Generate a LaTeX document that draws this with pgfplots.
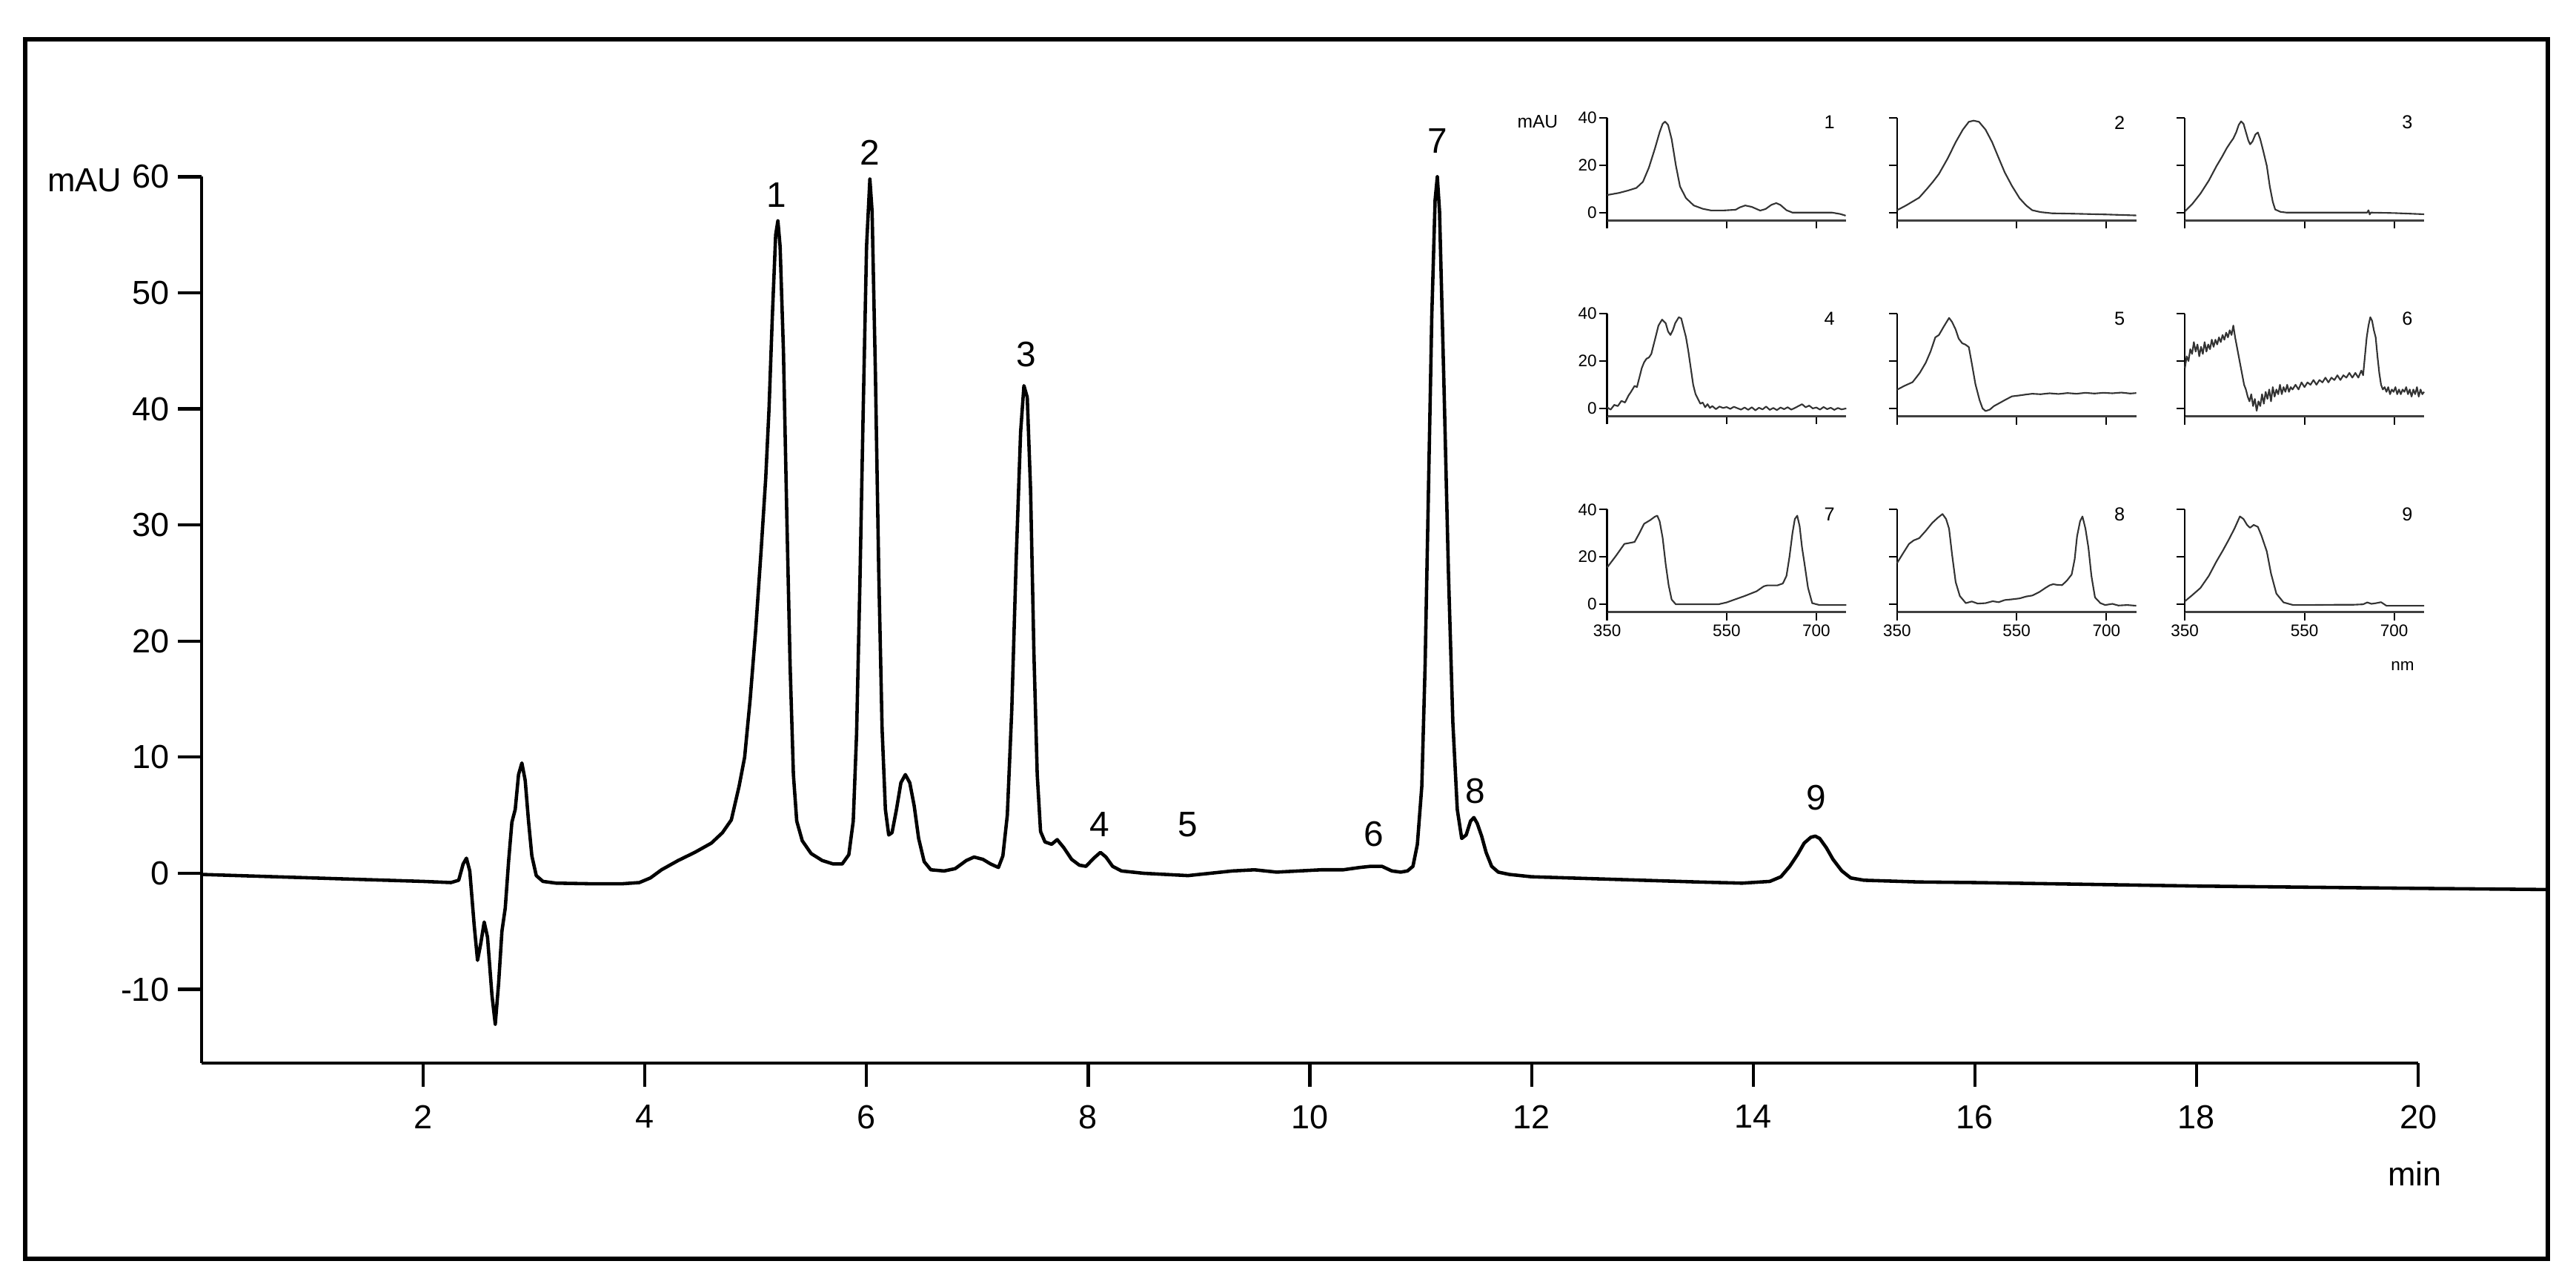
\documentclass[border=0pt]{standalone}
\usepackage{pgfplots}
\pgfplotsset{compat=1.18}
\usepackage{fontspec}
\setmainfont{Liberation Sans}

% small spectrum panels
\pgfplotsset{
  spec/.style={
    scale only axis, width=1.614cm, height=0.692cm,
    xmin=350, xmax=750, ymin=-3.3, ymax=40,
    axis x line=bottom, axis y line=left,
    x axis line style={-, line width=0.5pt, black!75},
    y axis line style={-, line width=0.3pt},
    xtick={350,550,700}, ytick={0,20,40},
    tick align=outside, major tick length=0.055cm,
    tick style={line width=0.3pt, black},
    xticklabels={}, yticklabels={},
    tick label style={font=\fontsize{3.2}{3.5}\selectfont},
    yticklabel style={inner xsep=0.2pt},
    xticklabel style={inner ysep=0.6pt},
    clip=false,
  },
  spec ylab/.style={yticklabels={0,20,40}},
  spec xlab/.style={xticklabels={350,550,700}},
  spline/.style={line width=0.3pt, black!80, line join=round},
}
\newcommand{\specnum}[1]{\node[font=\fontsize{3.6}{4}\selectfont] at (axis cs:722,38) {#1};}

\begin{document}
\begin{tikzpicture}
\path (0,0) rectangle (17.38,8.655);
\draw[line width=0.8pt] (0.17,0.165) rectangle (17.19,8.39);

\begin{axis}[
  at={(1.36cm,1.485cm)}, anchor=south west,
  scale only axis, width=14.955cm, height=5.978cm,
  xmin=0, xmax=20, ymin=-16.35, ymax=60,
  axis x line=bottom, axis y line=left,
  axis line style={-, line width=0.6pt},
  xtick={2,4,...,20}, ytick={-10,0,...,60},
  tick align=outside, major tick length=0.16cm,
  tick style={line width=0.6pt, black},
  tick label style={font=\fontsize{6.4}{7.5}\selectfont},
  yticklabel style={inner xsep=1.5pt},
  /pgf/number format/assume math mode=true,
  clip=false,
]
\addplot[line width=0.65pt, black, line join=round] coordinates {
(0,-0.1) (0.5,-0.25) (1.0,-0.4) (1.5,-0.55) (2.0,-0.7) (2.25,-0.8)
(2.32,-0.6) (2.36,0.8) (2.39,1.3) (2.42,0.2) (2.46,-4.5) (2.49,-7.5)
(2.52,-6.0) (2.55,-4.2) (2.58,-5.5) (2.62,-10.5) (2.65,-13.0) (2.68,-9.5)
(2.71,-5.0) (2.74,-3.0) (2.77,1.0) (2.8,4.4) (2.83,5.5) (2.86,8.5)
(2.89,9.5) (2.92,8.0) (2.95,4.5) (2.98,1.5) (3.02,-0.2) (3.08,-0.7)
(3.2,-0.85) (3.5,-0.9) (3.8,-0.9) (3.95,-0.8) (4.05,-0.4) (4.15,0.3)
(4.3,1.1) (4.45,1.8) (4.6,2.6) (4.7,3.5) (4.78,4.6) (4.85,7.5)
(4.9,10) (4.95,15) (5.0,21) (5.05,28) (5.09,34) (5.12,40) (5.15,48)
(5.18,55) (5.2,56.2) (5.22,54) (5.25,45) (5.28,31) (5.31,18) (5.34,8.5)
(5.37,4.5) (5.42,2.8) (5.5,1.7) (5.6,1.1) (5.7,0.8) (5.78,0.8)
(5.84,1.6) (5.88,4.5) (5.91,12) (5.94,25) (5.97,40) (6.0,54) (6.03,59.8)
(6.05,57) (6.08,43) (6.11,26) (6.14,12.5) (6.17,5.5) (6.2,3.3)
(6.23,3.5) (6.27,5.5) (6.31,7.8) (6.35,8.5) (6.39,7.8) (6.43,5.8)
(6.47,3.0) (6.52,1.0) (6.58,0.3) (6.7,0.2) (6.8,0.4) (6.9,1.1)
(6.97,1.4) (7.05,1.2) (7.12,0.8) (7.19,0.5) (7.23,1.5) (7.27,5)
(7.31,14) (7.35,27) (7.39,38) (7.42,42) (7.45,41) (7.48,33) (7.51,19)
(7.54,8.5) (7.57,3.6) (7.61,2.7) (7.67,2.5) (7.72,2.9) (7.78,2.2)
(7.85,1.2) (7.92,0.7) (7.98,0.6) (8.05,1.3) (8.11,1.8) (8.16,1.4)
(8.22,0.6) (8.3,0.2) (8.5,0.0) (8.7,-0.1) (8.9,-0.2) (9.1,0.0)
(9.3,0.2) (9.5,0.3) (9.7,0.1) (9.9,0.2) (10.1,0.3) (10.3,0.3)
(10.45,0.5) (10.55,0.6) (10.65,0.6) (10.74,0.2) (10.82,0.1) (10.88,0.2)
(10.93,0.6) (10.97,2.5) (11.01,7.5) (11.04,18) (11.07,33) (11.1,48)
(11.13,58) (11.15,60) (11.17,57) (11.21,42) (11.25,26) (11.29,13)
(11.33,5.5) (11.37,3.0) (11.41,3.3) (11.45,4.5) (11.48,4.8) (11.51,4.3)
(11.55,3.2) (11.59,1.8) (11.64,0.6) (11.7,0.1) (11.8,-0.1) (12.0,-0.3)
(12.5,-0.45) (13.0,-0.6) (13.5,-0.75) (13.9,-0.85) (14.15,-0.7)
(14.25,-0.3) (14.33,0.6) (14.4,1.6) (14.46,2.6) (14.52,3.1) (14.56,3.2)
(14.6,3.0) (14.66,2.2) (14.72,1.2) (14.8,0.2) (14.88,-0.4) (15.0,-0.6)
(15.5,-0.75) (16.0,-0.8) (17.0,-0.95) (18.0,-1.1) (19.0,-1.2)
(20.0,-1.3) (21.15,-1.4)
};
\begin{scope}[font=\fontsize{6.8}{8}\selectfont]
\node at (axis cs:5.19,58.4) {1};
\node at (axis cs:6.03,62.1) {2};
\node at (axis cs:7.44,44.7) {3};
\node at (axis cs:8.10,4.2) {4};
\node at (axis cs:8.90,4.2) {5};
\node at (axis cs:10.58,3.4) {6};
\node at (axis cs:11.15,63.1) {7};
\node at (axis cs:11.49,7.1) {8};
\node at (axis cs:14.57,6.5) {9};
\end{scope}
\begin{scope}[font=\fontsize{6.4}{7.5}\selectfont]
\node[anchor=east, inner sep=0pt] at (axis cs:-0.71,59.7) {mAU};
\node at (axis cs:19.97,-25.9) {min};
\end{scope}
\end{axis}

% row 1
\begin{axis}[spec, spec ylab, at={(10.8425cm,7.1685cm)}, anchor=south west]
\addplot[spline] coordinates {
(350,7.4) (370,8.3) (385,9.3) (399,10.4) (410,13) (420,19) (430,27)
(438,34) (443,37.5) (447,38.4) (452,37) (458,31) (465,20) (472,11)
(482,6.1) (495,3) (510,1.6) (524,0.9) (545,0.9) (565,1.2) (572,2.2)
(581,3.0) (592,2.4) (606,0.85) (615,1.5) (625,3.3) (633,4.0) (640,3.2)
(650,1.0) (660,0) (700,0) (726,0) (740,-0.6) (749,-1.3)
};
\specnum{1}
\node[font=\fontsize{3.5}{4}\selectfont] at (axis cs:234,38.4) {mAU};
\end{axis}
\begin{axis}[spec, at={(12.799cm,7.1685cm)}, anchor=south west]
\addplot[spline] coordinates {
(350,1.0) (365,3) (387,6.3) (400,10) (410,13) (420,16.3) (435,23)
(448,29.7) (460,35) (470,38.3) (478,38.8) (487,38.3) (498,35) (509,29.7)
(520,23) (530,17) (542,11.3) (555,6) (566,3) (576,1.0) (590,0.2)
(609,-0.3) (650,-0.5) (700,-0.8) (750,-1.2)
};
\specnum{2}
\end{axis}
\begin{axis}[spec, at={(14.741cm,7.1685cm)}, anchor=south west]
\addplot[spline] coordinates {
(350,0.5) (362,3.5) (376,8) (390,13.5) (403,19.7) (412,23.5) (420,27.2)
(426,29.5) (431,31.3) (436,34) (440,37) (444,38.5) (448,37.5) (452,34)
(456,30.5) (459,28.8) (463,30) (468,33) (472,33.8) (476,31) (481,26)
(487,19.7) (492,11) (497,4.5) (501,1.3) (510,0.3) (520,0) (600,0)
(655,0) (657,1.0) (659,-0.8) (661,0) (700,-0.2) (750,-0.7)
};
\specnum{3}
\end{axis}

% row 2
\begin{axis}[spec, spec ylab, at={(10.8425cm,5.8475cm)}, anchor=south west]
\addplot[spline] coordinates {
(350,0.5) (356,-0.5) (362,1.5) (368,1.0) (374,3.2) (380,2.5) (386,5.5)
(390,7) (396,9.5) (400,9) (404,13) (408,17) (412,19.5) (416,21) (420,21.5)
(424,23) (428,27) (432,31) (436,35) (442,37.5) (448,36) (452,32.5)
(456,31) (460,33) (464,36) (470,38.5) (474,38) (478,34) (482,30) (486,24)
(490,17) (494,10) (498,6) (502,4) (506,2) (510,2.5) (514,0.5) (518,1.8)
(522,0.2) (526,1) (532,-0.3) (538,0.8) (544,0.2) (550,0.6) (556,-0.2)
(562,0.7) (568,0.1) (574,-0.5) (580,0.4) (586,-0.6) (592,0.5) (598,-0.8)
(604,0.3) (610,-0.4) (616,0.8) (622,-0.6) (628,0.2) (634,-0.7) (640,0.4)
(646,-0.3) (652,0.5) (658,-0.5) (664,0.2) (670,1.0) (676,1.8) (682,0.5)
(688,1.2) (694,0) (700,0.4) (706,-0.5) (712,0.6) (718,-0.3) (724,0.3)
(730,-0.6) (736,0.2) (742,-0.4) (750,0)
};
\specnum{4}
\end{axis}
\begin{axis}[spec, at={(12.799cm,5.8475cm)}, anchor=south west]
\addplot[spline] coordinates {
(350,7.9) (362,9.5) (376,11.1) (388,15) (398,19.3) (406,24) (414,30)
(420,31) (428,34.5) (437,38.2) (442,36.5) (448,33.3) (453,29.5) (459,27.5)
(464,27) (470,25.9) (475,19) (481,10.3) (488,3.5) (493,0) (498,-1.1)
(505,-0.5) (512,1.0) (520,2.1) (530,3.5) (542,5.1) (555,5.5) (566,5.9)
(576,6.2) (590,6.0) (605,6.4) (620,6.1) (635,6.5) (650,6.2) (665,6.6)
(680,6.3) (695,6.6) (710,6.4) (725,6.7) (740,6.3) (750,6.5)
};
\specnum{5}
\end{axis}
\begin{axis}[spec, at={(14.741cm,5.8475cm)}, anchor=south west]
\addplot[spline] coordinates {
(350,17) (353,22) (356,20) (359,25) (362,23) (365,28) (368,24) (371,27)
(374,22) (377,26) (380,23) (383,28) (386,24) (389,27) (392,25) (395,29)
(398,26) (401,29) (404,27) (407,30) (410,28) (413,31) (416,29) (419,32)
(422,30) (425,33) (428,31) (431,35) (434,30) (437,26) (440,22) (443,18)
(446,14) (449,10) (452,8) (455,5) (458,3) (461,6) (464,1) (467,4)
(470,-1) (473,3) (476,1) (479,6) (482,2) (485,7) (488,4) (491,8) (494,3)
(497,9) (500,5) (503,8) (506,6) (509,10) (512,6) (515,9) (518,7) (521,10)
(524,7) (527,9) (530,8) (535,10) (540,8) (545,11) (550,9) (555,11)
(560,10) (565,12) (570,10) (575,12) (580,11) (585,13) (590,11) (595,13)
(600,12) (605,14) (610,12) (615,14) (620,13) (625,15) (630,13) (635,15)
(640,13) (645,16) (648,14) (651,22) (654,30) (657,35) (660,38.5) (663,37)
(666,33) (669,30) (672,22) (675,15) (678,10) (681,8) (684,9) (687,7)
(690,9) (693,6) (696,8) (699,7) (702,9) (705,6) (708,8) (711,6) (714,8)
(717,7) (720,9) (723,6) (726,8) (729,5) (732,8) (735,6) (738,9) (741,5)
(744,8) (747,6) (750,7)
};
\specnum{6}
\end{axis}

% row 3
\begin{axis}[spec, spec ylab, spec xlab, at={(10.8425cm,4.5265cm)}, anchor=south west]
\addplot[spline] coordinates {
(350,15.5) (365,20.5) (379,25.5) (390,26) (396,26.3) (404,30) (412,34)
(422,35.5) (430,37) (434,37.4) (438,35) (443,28) (448,17) (453,8)
(458,2) (465,0) (500,0) (536,0) (550,0.8) (561,1.8) (580,3.5) (600,5.5)
(612,7.6) (618,8.0) (635,8.0) (644,8.8) (650,12) (655,20) (660,30)
(664,36) (668,37.4) (672,33) (676,24) (680,17.4) (686,7) (693,0.5)
(705,-0.3) (750,-0.3)
};
\specnum{7}
\end{axis}
\begin{axis}[spec, spec xlab, at={(12.799cm,4.5265cm)}, anchor=south west]
\addplot[spline] coordinates {
(350,17.4) (360,21.5) (370,25.5) (378,27) (387,27.9) (398,31) (409,34.4)
(418,36.5) (426,38.1) (432,36) (437,31.9) (442,21) (448,9.4) (455,3.5)
(465,0.5) (475,1.2) (485,0.3) (498,0.5) (510,1.3) (520,0.9) (530,1.8)
(542,2.1) (555,2.5) (566,3.3) (576,3.7) (588,5.2) (598,6.9) (605,8.0)
(611,8.5) (618,8.2) (626,8.1) (634,10) (642,12.6) (647,19) (651,28.7)
(656,35) (660,37.1) (665,32) (670,23.9) (675,12) (681,2.9) (690,0.5)
(698,-0.3) (710,0.2) (720,-0.5) (735,-0.3) (750,-0.6)
};
\specnum{8}
\end{axis}
\begin{axis}[spec, spec xlab, at={(14.741cm,4.5265cm)}, anchor=south west]
\addplot[spline] coordinates {
(350,1.3) (362,3.8) (376,6.9) (390,12) (403,18.2) (413,22.5) (423,27.1)
(433,32) (442,37.1) (448,36) (454,33.5) (459,32.3) (465,33.5) (472,32.7)
(478,29) (487,22.3) (494,13) (503,4.5) (515,0.8) (531,-0.3) (560,-0.3)
(600,-0.2) (630,-0.2) (648,0) (655,0.8) (662,0.2) (670,0.5) (678,0.9)
(687,-0.6) (710,-0.6) (750,-0.6)
};
\specnum{9}
\node[font=\fontsize{3.2}{3.5}\selectfont] at (axis cs:714,-26) {nm};
\end{axis}
\end{tikzpicture}
\end{document}
